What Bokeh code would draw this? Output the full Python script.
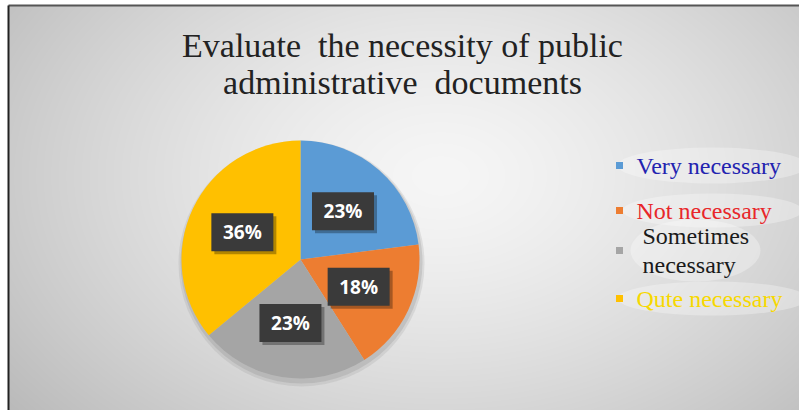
import numpy as np
from bokeh.plotting import figure
from bokeh.models import Range1d, ColumnDataSource
from bokeh.core.properties import value
from bokeh.embed import file_html
from bokeh.resources import INLINE

# ---- data ----
categories = ["Very necessary", "Not necessary", "Sometimes\nnecessary", "Qute necessary"]
values = [23, 18, 23, 36]
slice_colors = ["#5b9bd5", "#ed7d31", "#a5a5a5", "#ffc000"]
legend_text_colors = ["#2323b0", "#e8262a", "#1a1a1a", "#f7d800"]
title_text = "Evaluate \u00a0the necessity of public\nadministrative \u00a0documents"

W, H = 799, 410
p = figure(width=W, height=H, output_backend="svg", toolbar_location=None,
           x_range=Range1d(0, W), y_range=Range1d(0, H), min_border=0)
p.axis.visible = False
p.grid.visible = False
p.outline_line_color = None
p.background_fill_color = "white"
p.border_fill_color = "white"

# ---- background gradient (decoration) ----
gx0, gy_top = 8, 5
gw, gh = W - gx0, H - gy_top
yy, xx = np.mgrid[0:gh, 0:gw]
cx, cy = 440 - gx0, 175 - gy_top
d = np.sqrt(((xx - cx) / 470.0) ** 2 + ((yy - cy) / 320.0) ** 2)
v = 246 - 48 * np.clip(d, 0, 1.25) ** 1.4
v = np.clip(v, 0, 255).astype(np.uint32)
img = np.empty((gh, gw), dtype=np.uint32)
view = img.view(dtype=np.uint8).reshape((gh, gw, 4))
view[:, :, 0] = v
view[:, :, 1] = v
view[:, :, 2] = v
view[:, :, 3] = 255
img = img[::-1]
p.image_rgba(image=[img], x=gx0, y=0, dw=gw, dh=gh)
# frame lines (top and left)
p.line(x=[gx0, W], y=[H - gy_top, H - gy_top], line_color="#555555", line_width=2)
p.line(x=[gx0, gx0], y=[0, H - gy_top], line_color="#222222", line_width=2)

# ---- title ----
p.text(x=[402], y=[H - 26], text=[title_text], text_align="center", text_baseline="top",
       text_font=value("Liberation Serif"), text_font_size="34px", text_color="#222222",
       text_line_height=1.02)

# ---- pie ----
vals = np.array(values, dtype=float)
frac = vals / vals.sum()
cum = np.cumsum(frac)
prev = np.concatenate([[0], cum[:-1]])
start = np.pi / 2 - 2 * np.pi * prev
end = np.pi / 2 - 2 * np.pi * cum
mid = (start + end) / 2
pcx, pcy, R = 300, H - 259, 119

# shadow
p.circle(x=[pcx + 1], y=[pcy - 4], radius=R + 4, fill_color="#888888", fill_alpha=0.18, line_color=None)
p.circle(x=[pcx + 1], y=[pcy - 3], radius=R + 2, fill_color="#777777", fill_alpha=0.2, line_color=None)

src = ColumnDataSource(dict(start=start, end=end, color=slice_colors,
                            lx=pcx + 0.54 * R * np.cos(mid), ly=pcy + 0.54 * R * np.sin(mid),
                            sx=pcx + 0.54 * R * np.cos(mid) + 3, sy=pcy + 0.54 * R * np.sin(mid) - 3,
                            lab=[f"{int(round(f * 100))}%" for f in frac]))
p.wedge(x=pcx, y=pcy, radius=R, start_angle="start", end_angle="end", direction="clock",
        fill_color="color", line_color=None, source=src)

# data labels
p.rect(x="sx", y="sy", width=62, height=38, fill_color="#000000", fill_alpha=0.3, line_color=None, source=src)
p.rect(x="lx", y="ly", width=62, height=38, fill_color="#3a3a3a", line_color=None, source=src)
p.text(x="lx", y="ly", text="lab", text_align="center", text_baseline="middle",
       text_font=value("Open Sans"), text_font_size="19px", text_font_style="bold",
       text_color="white", source=src)

# ---- legend ----
leg_y = [H - 165, H - 210, H - 250, H - 298]
leg_x_sq, leg_x_txt = 619, 636
p.ellipse(x=[712, 712, 695, 712], y=leg_y, width=[190, 180, 130, 190], height=[36, 34, 62, 34],
          fill_color="white", fill_alpha=0.3, line_color=None)
p.scatter(x=[leg_x_sq] * 4, y=leg_y, marker="square", size=7, fill_color=slice_colors, line_color=None)
lsrc = ColumnDataSource(dict(x=[leg_x_txt, leg_x_txt, leg_x_txt + 6, leg_x_txt], y=leg_y,
                             t=categories, c=legend_text_colors))
p.text(x="x", y="y", text="t", text_color="c", text_align="left", text_baseline="middle",
       text_font=value("Liberation Serif"), text_font_size="24px", text_line_height=1.1, source=lsrc)

open("out.html", "w").write(file_html(p, INLINE))
